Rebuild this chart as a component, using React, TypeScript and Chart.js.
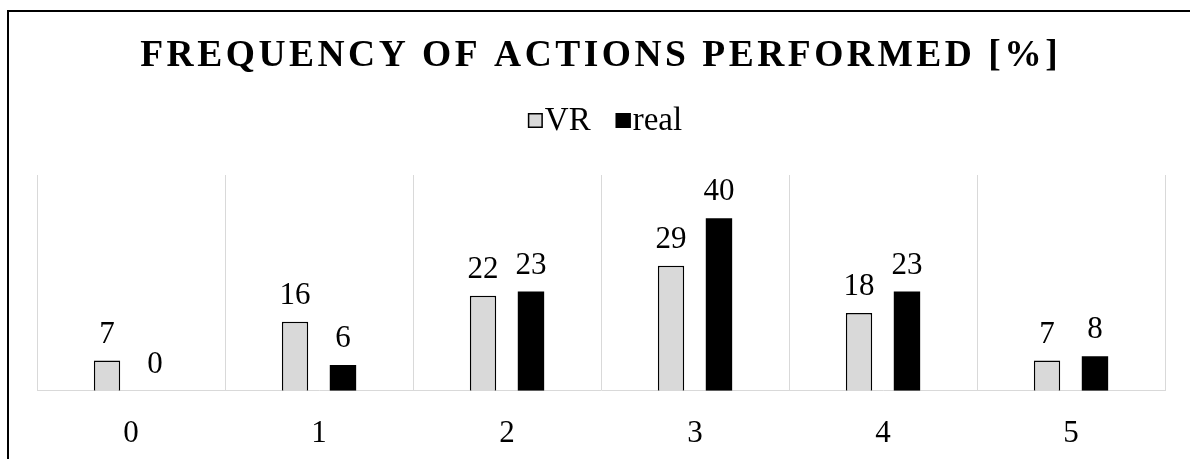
import React, { useEffect, useRef } from "react";
import { Chart, registerables } from "chart.js";

Chart.register(...registerables);

const categories = ["0", "1", "2", "3", "4", "5"];
const vrValues = [7, 16, 22, 29, 18, 7];
const realValues = [0, 6, 23, 40, 23, 8];
const seriesNames = ["VR", "real"];
const titleText = "FREQUENCY OF ACTIONS PERFORMED [%]";
const yMin = 0;
const yMax = 50;

const SERIF = "'Liberation Serif', 'Times New Roman', serif";
const VR_FILL = "#d9d9d9";
const REAL_FILL = "#000000";

const overlayPlugin = {
  id: "overlay",
  afterDatasetsDraw(chart: any) {
    const ctx = chart.ctx as CanvasRenderingContext2D;
    ctx.save();
    ctx.font = `31px ${SERIF}`;
    ctx.fillStyle = "#000";
    ctx.textAlign = "center";
    ctx.textBaseline = "alphabetic";
    chart.data.datasets.forEach((ds: any, i: number) => {
      const meta = chart.getDatasetMeta(i);
      meta.data.forEach((bar: any, j: number) => {
        ctx.fillText(String(ds.data[j]), bar.x, bar.y - 18);
      });
    });
    ctx.restore();
  },
  afterDraw(chart: any) {
    const ctx = chart.ctx as CanvasRenderingContext2D;
    // Title
    ctx.save();
    ctx.font = `bold 37.5px ${SERIF}`;
    (ctx as any).letterSpacing = "3.5px";
    ctx.fillStyle = "#000";
    ctx.textAlign = "left";
    ctx.textBaseline = "alphabetic";
    const w = ctx.measureText(titleText).width;
    const cx = 599;
    ctx.fillText(titleText, cx - (w - 3.5) / 2, 66);
    ctx.restore();

    // Legend
    ctx.save();
    ctx.font = `33px ${SERIF}`;
    ctx.fillStyle = "#000";
    ctx.textAlign = "left";
    ctx.textBaseline = "alphabetic";
    const box = 15;
    const gapText = 2;
    const gapItem = 25;
    const widths = seriesNames.map((n) => ctx.measureText(n).width);
    const total =
      widths.reduce((a, b) => a + b, 0) + seriesNames.length * (box + gapText) + gapItem * (seriesNames.length - 1);
    let x = 605 - total / 2;
    const baseline = 130;
    chart.data.datasets.forEach((ds: any, i: number) => {
      ctx.fillStyle = ds.backgroundColor;
      ctx.fillRect(x, 113, box, box);
      ctx.lineWidth = 1.5;
      ctx.strokeStyle = "#000";
      ctx.strokeRect(x + 0.75, 113 + 0.75, box - 1.5, box - 1.5);
      x += box + gapText;
      ctx.fillStyle = "#000";
      ctx.fillText(seriesNames[i], x, baseline);
      x += widths[i] + gapItem;
    });
    ctx.restore();
  },
};

export default function App() {
  const canvasRef = useRef<HTMLCanvasElement | null>(null);

  useEffect(() => {
    if (!canvasRef.current) return;
    const chart = new Chart(canvasRef.current, {
      type: "bar",
      data: {
        labels: categories,
        datasets: [
          {
            label: seriesNames[0],
            data: vrValues,
            backgroundColor: VR_FILL,
            borderColor: "#000",
            borderWidth: 1.5,
            categoryPercentage: 0.51,
            barPercentage: 0.55,
          },
          {
            label: seriesNames[1],
            data: realValues,
            backgroundColor: REAL_FILL,
            borderColor: "#000",
            borderWidth: 0,
            categoryPercentage: 0.51,
            barPercentage: 0.55,
          },
        ],
      },
      options: {
        responsive: false,
        animation: false,
        devicePixelRatio: 1,
        layout: { padding: { top: 175, left: 37, right: 25, bottom: 10 } },
        plugins: {
          legend: { display: false },
          title: { display: false },
          tooltip: { enabled: false },
        },
        scales: {
          x: {
            offset: true,
            grid: { display: true, offset: true, color: "#d9d9d9", lineWidth: 1, drawTicks: false },
            border: { display: true, color: "#d9d9d9", width: 1 },
            ticks: { color: "#000", font: { family: SERIF, size: 31 }, padding: 24 },
          },
          y: {
            display: false,
            min: yMin,
            max: yMax,
          },
        },
      },
      plugins: [overlayPlugin],
    });
    return () => chart.destroy();
  }, []);

  return (
    <div
      style={{
        position: "fixed",
        left: 0,
        top: 0,
        width: 1190,
        height: 459,
        overflow: "hidden",
        background: "#fff",
      }}
    >
      <div
        style={{
          position: "absolute",
          left: 7,
          top: 10,
          width: 1300,
          height: 600,
          borderTop: "2px solid #000",
          borderLeft: "2px solid #000",
        }}
      />
      <canvas
        ref={canvasRef}
        width={1190}
        height={486}
        style={{ position: "absolute", left: 0, top: 0, display: "block" }}
      />
    </div>
  );
}
